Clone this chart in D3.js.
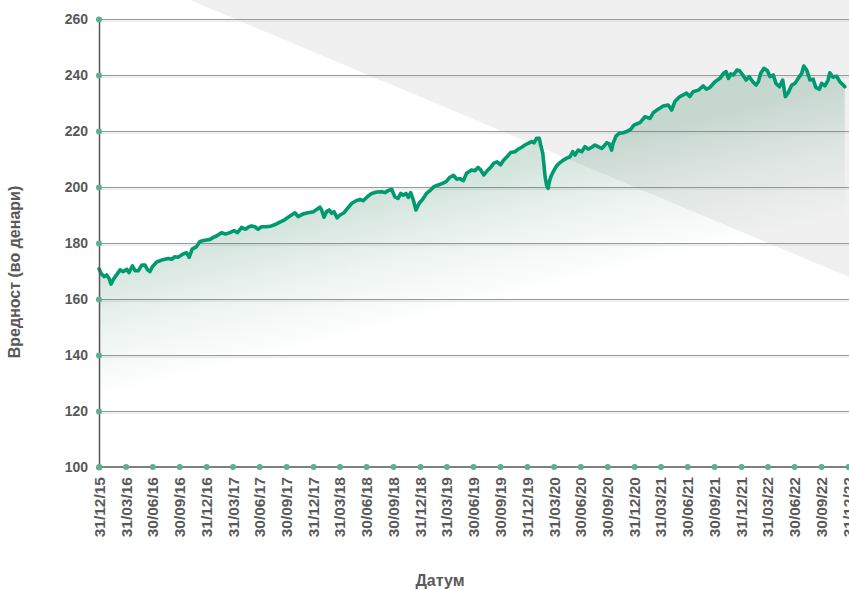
<!DOCTYPE html>
<html>
<head>
<meta charset="utf-8">
<script src="https://cdn.jsdelivr.net/npm/d3@7"></script>
<style>
  body { margin: 0; background: #fff; }
  svg { display: block; font-family: "Liberation Sans", Arial, sans-serif; }
</style>
</head>
<body>
<svg id="chart" width="849" height="590"></svg>
<script>
// unit value of the fund
var dates = [
  "2015-12-31","2016-01-09","2016-01-18","2016-01-26","2016-02-03","2016-02-10","2016-02-18","2016-02-29",
  "2016-03-12","2016-03-23","2016-04-04","2016-04-11","2016-04-23","2016-05-02","2016-05-13","2016-05-25",
  "2016-06-05","2016-06-14","2016-06-22","2016-06-30","2016-07-15","2016-08-01","2016-08-12","2016-08-23",
  "2016-09-04","2016-09-15","2016-09-26","2016-10-13","2016-10-25","2016-11-03","2016-11-13","2016-11-28",
  "2016-12-09","2016-12-21",
  "2017-01-02","2017-01-13","2017-01-24","2017-02-04","2017-02-21","2017-03-07","2017-03-22","2017-04-05",
  "2017-04-17","2017-05-01","2017-05-14","2017-05-26","2017-06-04","2017-06-15","2017-06-26","2017-07-08",
  "2017-07-25","2017-08-11","2017-08-28","2017-09-12","2017-09-23","2017-10-13","2017-10-30","2017-11-10",
  "2017-11-27","2017-12-14",
  "2018-01-02","2018-01-12","2018-01-23","2018-01-29","2018-02-06","2018-02-15","2018-02-24","2018-03-04",
  "2018-03-12","2018-03-23","2018-04-02","2018-04-15","2018-05-01","2018-05-12","2018-05-27","2018-06-09",
  "2018-06-20","2018-07-04","2018-07-19","2018-08-05","2018-08-22","2018-09-02","2018-09-13","2018-09-25",
  "2018-10-06","2018-10-17","2018-10-26","2018-11-04","2018-11-13","2018-11-21","2018-11-29","2018-12-08",
  "2018-12-17","2018-12-28",
  "2019-01-09","2019-01-22","2019-02-05","2019-02-16","2019-03-03","2019-03-18","2019-03-30","2019-04-12",
  "2019-04-24","2019-05-05","2019-05-16","2019-05-28","2019-06-08","2019-06-25","2019-07-06","2019-07-17",
  "2019-07-26","2019-08-06","2019-08-17","2019-08-29","2019-09-09","2019-09-20","2019-10-02","2019-10-11",
  "2019-10-22","2019-11-05","2019-11-20","2019-12-01","2019-12-13","2019-12-24",
  "2020-01-04","2020-01-16","2020-01-24","2020-02-02","2020-02-11","2020-02-16","2020-02-23","2020-02-27",
  "2020-03-02","2020-03-07","2020-03-12","2020-03-18","2020-03-24","2020-03-30","2020-04-05","2020-04-13",
  "2020-04-22","2020-05-03","2020-05-15","2020-05-26","2020-06-04","2020-06-12","2020-06-23","2020-07-05",
  "2020-07-16","2020-07-27","2020-08-08","2020-08-19","2020-08-30","2020-09-11","2020-09-19","2020-09-28",
  "2020-10-07","2020-10-15","2020-10-20","2020-10-30","2020-11-10","2020-11-24","2020-12-05","2020-12-19",
  "2020-12-30",
  "2021-01-08","2021-01-20","2021-02-06","2021-02-23","2021-03-06","2021-03-23","2021-04-09","2021-04-26",
  "2021-05-08","2021-05-19","2021-06-05","2021-06-28","2021-07-09","2021-07-20","2021-08-07","2021-08-24",
  "2021-09-04","2021-09-16","2021-10-03","2021-10-20","2021-11-01","2021-11-10","2021-11-18","2021-11-26",
  "2021-12-05","2021-12-17","2021-12-26",
  "2022-01-06","2022-01-17","2022-01-28","2022-02-09","2022-02-20","2022-02-28","2022-03-08","2022-03-19",
  "2022-03-31","2022-04-09","2022-04-20","2022-04-29","2022-05-11","2022-05-22","2022-05-31","2022-06-10",
  "2022-06-22","2022-07-03","2022-07-14","2022-07-26","2022-08-02","2022-08-12","2022-08-23","2022-09-03",
  "2022-09-12","2022-09-24","2022-10-02","2022-10-13","2022-10-24","2022-10-30","2022-11-10","2022-11-22",
  "2022-12-03","2022-12-15","2022-12-20"
];
var values = [
  170.8,168.9,168.0,168.6,167.4,165.3,167.0,168.6,
  170.4,169.8,170.6,169.4,171.8,170.1,170.1,172.1,
  172.1,170.4,169.8,171.5,173.2,173.9,174.2,174.5,
  174.2,175.1,174.9,176.1,176.5,174.9,177.8,178.7,
  180.5,180.9,
  181.1,181.3,182.0,182.5,183.7,183.2,183.7,184.4,
  183.7,185.6,184.9,185.8,186.1,185.8,184.9,185.8,
  185.8,186.1,186.8,187.6,188.2,189.6,190.8,189.4,
  190.4,190.8,
  191.2,192.0,192.8,191.8,189.2,191.2,191.8,190.6,
  191.2,189.0,190.0,190.8,192.8,194.2,195.1,195.6,
  195.1,196.5,197.7,198.2,198.3,198.0,198.7,199.2,
  196.5,195.9,197.7,197.1,197.7,196.3,198.0,195.4,
  191.8,194.2,
  195.6,197.7,198.9,200.1,200.7,201.3,201.9,203.5,
  204.2,202.8,203.0,202.3,204.9,206.1,205.8,207.0,
  206.1,204.3,205.8,207.0,208.5,209.0,207.9,209.4,
  210.6,212.3,212.6,213.5,214.2,215.0,
  215.6,216.2,215.8,217.4,217.4,215.0,212.0,207.9,
  203.7,200.7,199.5,202.5,204.3,205.5,206.7,207.9,
  208.7,209.6,210.3,210.8,212.6,211.4,213.2,212.6,
  214.4,213.5,214.2,215.0,214.4,213.8,214.6,215.8,
  215.4,213.2,215.6,218.2,219.2,219.4,219.8,220.6,
  222.1,
  222.5,223.0,225.1,224.5,226.5,227.8,228.9,229.3,
  227.5,230.5,232.3,233.5,232.3,234.0,234.6,236.1,
  234.9,235.6,237.6,238.8,240.6,241.2,238.8,240.4,
  240.0,241.8,241.5,
  240.0,238.2,239.4,237.6,236.4,237.6,240.6,242.4,
  241.5,239.4,240.0,237.0,235.8,238.2,232.3,233.7,
  236.4,237.0,238.8,240.6,243.2,241.8,238.2,238.5,
  235.6,234.9,237.0,236.1,238.2,240.8,239.2,239.6,
  237.6,236.4,235.8
];
var xTickLabels = [
  "31/12/15","31/03/16","30/06/16","30/09/16","31/12/16","31/03/17","30/06/17","30/09/17",
  "31/12/17","31/03/18","30/06/18","30/09/18","31/12/18","31/03/19","30/06/19","30/09/19",
  "31/12/19","31/03/20","30/06/20","30/09/20","31/12/20","31/03/21","30/06/21","30/09/21",
  "31/12/21","31/03/22","30/06/22","30/09/22","31/12/22"
];
var yTicks = [100, 120, 140, 160, 180, 200, 220, 240, 260];
var yTitle = "Вредност (во денари)";
var xTitle = "Датум";

var svg = d3.select("#chart");
var W = 849, H = 590;
var mLeft = 99, mRight = 848, mTop = 19, mBottom = 467;

var parseISO = d3.timeParse("%Y-%m-%d");
var parseTick = d3.timeParse("%d/%m/%y");
var data = dates.map(function (d, i) { return { date: parseISO(d), value: values[i] }; });
var tickDates = xTickLabels.map(function (t) { return parseTick(t); });

var x = d3.scaleTime()
  .domain([tickDates[0], tickDates[tickDates.length - 1]])
  .range([mLeft, mRight]);
var y = d3.scaleLinear().domain([100, 260]).range([mBottom, mTop]);

// grey decorative wedge in the background
svg.append("polygon")
  .attr("points", "190,0 849,0 849,277")
  .attr("fill", "#f0f0f0");

var defs = svg.append("defs");
var grad = defs.append("linearGradient")
  .attr("id", "fillGrad")
  .attr("gradientUnits", "userSpaceOnUse")
  .attr("x1", 99).attr("y1", 262)
  .attr("x2", 131).attr("y2", 392);
grad.append("stop").attr("offset", 0).attr("stop-color", "#2f7d5d").attr("stop-opacity", 0.22);
grad.append("stop").attr("offset", 0.5).attr("stop-color", "#2f7d5d").attr("stop-opacity", 0.09);
grad.append("stop").attr("offset", 1).attr("stop-color", "#2f7d5d").attr("stop-opacity", 0);

// horizontal grid lines (axis with long ticks)
var grid = svg.append("g")
  .attr("transform", "translate(" + mLeft + ",0)")
  .call(d3.axisRight(y).tickValues(yTicks.slice(1)).tickSize(W - mLeft).tickFormat(""));
grid.select(".domain").remove();
grid.selectAll(".tick line").attr("stroke", "#9a9a9a").attr("stroke-width", 1.2);
grid.selectAll(".tick").append("line")
  .attr("x2", W - mLeft).attr("y1", 1.6).attr("y2", 1.6)
  .attr("stroke", "#dcdcdc").attr("stroke-width", 1);

// area + line
var area = d3.area()
  .x(function (d) { return x(d.date); })
  .y0(mBottom)
  .y1(function (d) { return y(d.value); });
svg.append("path").datum(data)
  .attr("d", area)
  .attr("fill", "url(#fillGrad)");

var line = d3.line()
  .x(function (d) { return x(d.date); })
  .y(function (d) { return y(d.value); });
svg.append("path").datum(data)
  .attr("d", line)
  .attr("fill", "none")
  .attr("stroke", "#009a6f")
  .attr("stroke-width", 3.6)
  .attr("stroke-linejoin", "round")
  .attr("stroke-linecap", "round");

// y axis
var yAxis = svg.append("g")
  .attr("transform", "translate(" + mLeft + ",0)")
  .call(d3.axisLeft(y).tickValues(yTicks).tickSize(0).tickPadding(11));
yAxis.select(".domain").attr("stroke", "#555").attr("stroke-width", 1.5);
yAxis.selectAll(".tick text")
  .attr("fill", "#595959")
  .style("font-size", "14px")
  .style("font-weight", "bold");
yAxis.selectAll(".tick").append("circle")
  .attr("r", 3).attr("fill", "#5bb08f");

// x axis
var xAxis = svg.append("g")
  .attr("transform", "translate(0," + mBottom + ")")
  .call(d3.axisBottom(x).tickValues(tickDates).tickSize(0).tickFormat(d3.timeFormat("%d/%m/%y")));
xAxis.select(".domain").attr("stroke", "#555").attr("stroke-width", 1.5)
  .attr("d", "M" + mLeft + ",0H" + W);
xAxis.selectAll(".tick text")
  .attr("fill", "#595959")
  .style("font-size", "15.5px")
  .style("font-weight", "bold")
  .attr("text-anchor", "end")
  .attr("transform", "rotate(-90)")
  .attr("x", -10)
  .attr("y", 0)
  .attr("dy", "0.35em");
xAxis.selectAll(".tick").append("circle")
  .attr("r", 3).attr("fill", "#5bb08f");

// titles
svg.append("text")
  .attr("transform", "translate(20,272) rotate(-90)")
  .attr("text-anchor", "middle")
  .attr("fill", "#595959")
  .style("font-size", "16px")
  .style("font-weight", "bold")
  .text(yTitle);

svg.append("text")
  .attr("x", 440).attr("y", 586)
  .attr("text-anchor", "middle")
  .attr("fill", "#595959")
  .style("font-size", "16px")
  .style("font-weight", "bold")
  .text(xTitle);
</script>
</body>
</html>
